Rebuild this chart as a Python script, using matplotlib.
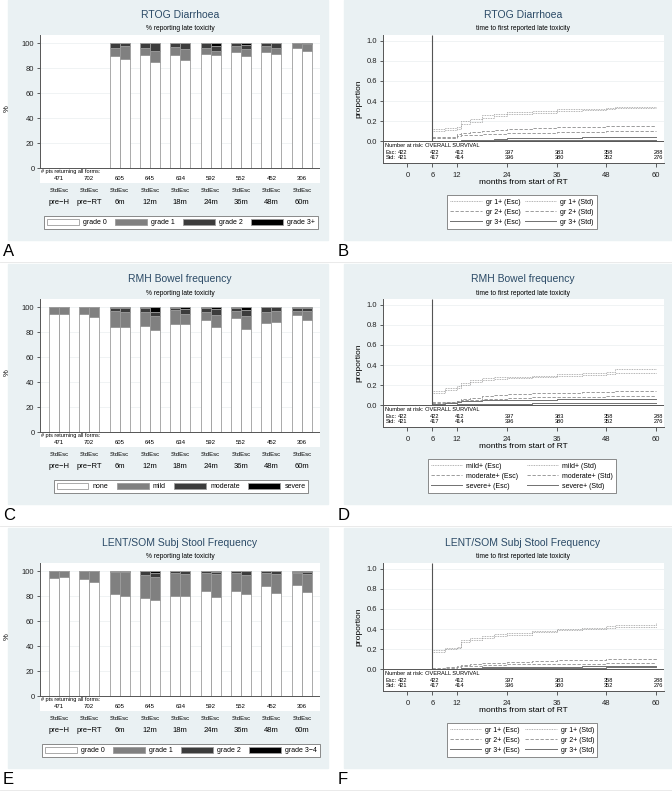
import numpy as np
import matplotlib
matplotlib.use("Agg")
import matplotlib.pyplot as plt
from matplotlib.patches import Rectangle, Patch
from matplotlib.lines import Line2D

plt.rcParams['font.family'] = ['Liberation Sans', 'DejaVu Sans']

W, H = 672, 792
nan = np.nan

# ---- bar panels (% reporting late toxicity) ----
groups = ['pre\u2212H', 'pre\u2212RT', '6m', '12m', '18m', '24m', '36m', '48m', '60m']
n_forms = [471, 702, 605, 645, 634, 592, 552, 452, 306]

# RTOG Diarrhoea, grade 0 / 1 / 2 / 3+
a_std_g0 = [nan, nan, 89.9, 90.2, 90.2, 91.5, 92.6, 92.6, 96.0]
a_std_g1 = [nan, nan, 6.6, 6.3, 6.9, 5.0, 5.3, 4.8, 4.0]
a_std_g2 = [nan, nan, 3.5, 3.5, 2.9, 3.5, 2.1, 2.6, 0.0]
a_std_g3 = [nan, nan, 0.0, 0.0, 0.0, 0.0, 0.0, 0.0, 0.0]
a_esc_g0 = [nan, nan, 87.5, 84.6, 86.7, 90.2, 89.4, 91.5, 93.9]
a_esc_g1 = [nan, nan, 10.4, 9.3, 8.8, 3.7, 5.9, 4.5, 5.1]
a_esc_g2 = [nan, nan, 2.1, 6.1, 4.5, 4.0, 3.4, 4.0, 0.0]
a_esc_g3 = [nan, nan, 0.0, 0.0, 0.0, 2.1, 1.3, 0.0, 1.0]
a_labels = ['grade 0', 'grade 1', 'grade 2', 'grade 3+']

# RMH Bowel frequency, none / mild / moderate / severe
c_std_g0 = [94.4, 94.9, 83.8, 84.8, 86.4, 89.7, 91.0, 87.5, 93.9]
c_std_g1 = [5.6, 5.1, 13.3, 11.7, 11.2, 6.6, 6.1, 8.8, 3.2]
c_std_g2 = [0.0, 0.0, 2.1, 2.7, 1.6, 2.9, 2.1, 3.7, 2.4]
c_std_g3 = [0.0, 0.0, 0.8, 0.8, 0.8, 0.8, 0.8, 0.0, 0.5]
c_esc_g0 = [94.9, 92.3, 83.8, 82.1, 86.4, 83.8, 82.2, 88.1, 89.9]
c_esc_g1 = [5.1, 7.7, 12.7, 10.9, 8.0, 9.8, 10.6, 9.0, 7.2]
c_esc_g2 = [0.0, 0.0, 2.7, 3.5, 4.3, 4.8, 5.3, 2.9, 2.1]
c_esc_g3 = [0.0, 0.0, 0.8, 3.5, 1.3, 1.6, 1.9, 0.0, 0.8]
c_labels = ['none', 'mild', 'moderate', 'severe']

# LENT/SOM Subj Stool Frequency, grade 0 / 1 / 2 / 3-4
e_std_g0 = [94.7, 93.6, 81.6, 78.7, 80.3, 84.3, 84.5, 88.5, 89.1]
e_std_g1 = [5.3, 6.4, 17.6, 18.6, 18.6, 14.6, 14.4, 10.4, 9.3]
e_std_g2 = [0.0, 0.0, 0.8, 2.7, 1.1, 1.1, 1.1, 1.1, 1.1]
e_std_g3 = [0.0, 0.0, 0.0, 0.0, 0.0, 0.0, 0.0, 0.0, 0.5]
e_esc_g0 = [95.2, 91.2, 79.8, 77.1, 79.8, 79.2, 81.9, 82.7, 83.5]
e_esc_g1 = [4.8, 8.8, 19.4, 18.6, 17.8, 18.4, 15.4, 14.9, 14.4]
e_esc_g2 = [0.0, 0.0, 0.8, 2.7, 2.4, 1.9, 2.7, 2.4, 1.6]
e_esc_g3 = [0.0, 0.0, 0.0, 1.6, 0.0, 0.5, 0.0, 0.0, 0.5]
e_labels = ['grade 0', 'grade 1', 'grade 2', 'grade 3\u22124']

# ---- time to first late toxicity (step curves) ----
km_times = [6, 9, 12, 13, 15, 18, 21, 24, 30, 36, 42, 48, 50, 60]

b_g1_esc = [0.12, 0.13, 0.14, 0.20, 0.22, 0.26, 0.27, 0.29, 0.30, 0.32, 0.32, 0.33, 0.34, 0.34]
b_g1_std = [0.10, 0.11, 0.12, 0.17, 0.19, 0.23, 0.25, 0.27, 0.28, 0.30, 0.31, 0.32, 0.33, 0.33]
b_g2_esc = [0.04, 0.04, 0.07, 0.08, 0.09, 0.10, 0.11, 0.12, 0.13, 0.14, 0.14, 0.15, 0.15, 0.15]
b_g2_std = [0.03, 0.03, 0.05, 0.06, 0.06, 0.07, 0.07, 0.08, 0.08, 0.09, 0.09, 0.10, 0.10, 0.10]
b_g3_esc = [0.0, 0.0, 0.005, 0.01, 0.01, 0.015, 0.02, 0.03, 0.03, 0.035, 0.04, 0.04, 0.04, 0.04]
b_g3_std = [0.0, 0.0, 0.0, 0.0, 0.005, 0.005, 0.01, 0.01, 0.01, 0.01, 0.01, 0.01, 0.01, 0.01]
b_labels = ['gr 1+ (Esc)', 'gr 2+ (Esc)', 'gr 3+ (Esc)', 'gr 1+ (Std)', 'gr 2+ (Std)', 'gr 3+ (Std)']

d_g1_esc = [0.14, 0.17, 0.19, 0.22, 0.25, 0.27, 0.28, 0.28, 0.29, 0.31, 0.32, 0.33, 0.36, 0.36]
d_g1_std = [0.12, 0.15, 0.17, 0.20, 0.23, 0.25, 0.26, 0.27, 0.28, 0.29, 0.30, 0.31, 0.32, 0.32]
d_g2_esc = [0.02, 0.03, 0.04, 0.06, 0.07, 0.09, 0.10, 0.11, 0.12, 0.12, 0.13, 0.13, 0.14, 0.14]
d_g2_std = [0.03, 0.03, 0.04, 0.05, 0.05, 0.06, 0.06, 0.07, 0.08, 0.08, 0.08, 0.09, 0.09, 0.09]
d_g3_esc = [0.01, 0.02, 0.03, 0.04, 0.045, 0.05, 0.05, 0.05, 0.055, 0.06, 0.06, 0.06, 0.06, 0.06]
d_g3_std = [0.0, 0.005, 0.01, 0.01, 0.01, 0.015, 0.015, 0.015, 0.02, 0.02, 0.02, 0.02, 0.02, 0.02]
d_labels = ['mild+ (Esc)', 'moderate+ (Esc)', 'severe+ (Esc)', 'mild+ (Std)', 'moderate+ (Std)', 'severe+ (Std)']

f_g1_esc = [0.19, 0.21, 0.22, 0.29, 0.31, 0.33, 0.35, 0.36, 0.38, 0.40, 0.41, 0.43, 0.44, 0.46]
f_g1_std = [0.17, 0.20, 0.21, 0.27, 0.29, 0.31, 0.33, 0.34, 0.37, 0.39, 0.40, 0.41, 0.42, 0.43]
f_g2_esc = [0.01, 0.02, 0.03, 0.04, 0.05, 0.06, 0.065, 0.07, 0.08, 0.09, 0.095, 0.10, 0.105, 0.115]
f_g2_std = [0.005, 0.01, 0.02, 0.03, 0.035, 0.04, 0.045, 0.05, 0.05, 0.05, 0.055, 0.06, 0.06, 0.06]
f_g3_esc = [0.0, 0.0, 0.005, 0.01, 0.015, 0.02, 0.02, 0.02, 0.025, 0.025, 0.03, 0.03, 0.03, 0.03]
f_g3_std = [0.0, 0.0, 0.0, 0.005, 0.005, 0.01, 0.01, 0.01, 0.01, 0.015, 0.015, 0.02, 0.02, 0.02]
f_labels = b_labels

risk_times = [0, 6, 12, 24, 36, 48, 60]
risk_esc = [422, 422, 412, 397, 383, 358, 288]
risk_std = [421, 417, 414, 396, 380, 352, 276]

BG = '#EAF1F3'
TITLE_C = '#2b4a66'
GRID_C = '#EEF1F2'
seg_colors = ['white', '#808080', '#3c3c3c', '#000000']
EDGE = '#9c9c9c'


def fx(px):
    return px / W


def fy(py):
    return 1 - py / H


fig = plt.figure(figsize=(W / 100, H / 100), dpi=100)

# panel backgrounds and letters
for row, (la, lb) in enumerate([('A', 'B'), ('C', 'D'), ('E', 'F')]):
    off = row * 264
    fig.patches.append(Rectangle((fx(8), fy(off + 240)), fx(320), 240 / H,
                                 transform=fig.transFigure, color=BG, zorder=-10))
    fig.patches.append(Rectangle((fx(344), fy(off + 240)), fx(328), 240 / H,
                                 transform=fig.transFigure, color=BG, zorder=-10))
    fig.text(fx(3), fy(off + 252), la, fontsize=12, va='center', ha='left')
    fig.text(fx(338), fy(off + 252), lb, fontsize=12, va='center', ha='left')
    fig.add_artist(Line2D([0, 1], [fy(off + 262)] * 2, color='#e6e6e6', lw=0.6,
                          transform=fig.transFigure))


def bar_panel(off, title, std, esc, labels):
    ax = fig.add_axes([fx(40), fy(off + 183), fx(280), 148 / H])
    ax.set_facecolor('white')
    x = np.arange(len(groups))
    bw = 0.33
    for series, shift in ((std, -bw / 2), (esc, bw / 2)):
        bottom = np.zeros(len(groups))
        for seg, col in zip(series, seg_colors):
            seg = np.asarray(seg, dtype=float)
            ok = ~np.isnan(seg)
            ax.bar(x[ok] + shift, seg[ok], bw, bottom=bottom[ok], color=col,
                   edgecolor=EDGE, linewidth=0.6, zorder=3)
            bottom[ok] += seg[ok]
    ax.set_xlim(-0.62, 8.6)
    ax.set_ylim(-12, 106.6)
    ax.set_yticks([0, 20, 40, 60, 80, 100])
    for yv in [20, 40, 60, 80, 100]:
        ax.axhline(yv, color=GRID_C, lw=0.6, zorder=1)
    ax.axhline(0, color='#555555', lw=0.7, zorder=4)
    ax.set_xticks([])
    for s in ('top', 'right', 'bottom'):
        ax.spines[s].set_visible(False)
    ax.spines['left'].set_bounds(0, 106.6)
    ax.spines['left'].set_color('#555555')
    ax.spines['left'].set_linewidth(0.7)
    ax.tick_params(axis='y', labelsize=5.5, length=2.5, width=0.5, pad=1.5, colors='#222222')
    ax.set_ylabel('%', fontsize=5.5, labelpad=8)
    ax.text(-0.58, -2.6, '# pts returning all forms:', fontsize=4, va='center', ha='left')
    for xi, n in zip(x, n_forms):
        ax.text(xi, -8.6, str(n), fontsize=4.3, va='center', ha='center')
        ax.text(xi, -0.054, 'StdEsc', fontsize=4.3, va='center', ha='center',
                transform=ax.get_xaxis_transform())
    for xi, g in zip(x, groups):
        ax.text(xi, -0.135, g, fontsize=5.5, va='center', ha='center',
                transform=ax.get_xaxis_transform())
    fig.text(fx(180), fy(off + 15), title, fontsize=7.5, color=TITLE_C, ha='center', va='center')
    fig.text(fx(180), fy(off + 29), '% reporting late toxicity', fontsize=4.8, ha='center', va='center')
    handles = [Patch(facecolor=c, edgecolor=EDGE, linewidth=0.6) for c in seg_colors]
    ax.legend(handles, labels, loc='upper center', ncol=4,
              bbox_to_anchor=(fx(181), fy(off + 213)), bbox_transform=fig.transFigure,
              fontsize=5, handlelength=4.6, handleheight=1.0, handletextpad=0.6,
              columnspacing=1.2, borderpad=0.35, frameon=True, fancybox=False,
              edgecolor='#777777', framealpha=1)
    ax.get_legend().get_frame().set_linewidth(0.6)


def km_panel(off, title, curves, labels, colsp):
    ax = fig.add_axes([fx(383), fy(off + 163), fx(281), 128 / H])
    ax.set_facecolor('white')
    styles = [((0, (1, 1)), '#9a9a9a', 0.6), ((0, (4, 2)), '#8c8c8c', 0.6), ('-', '#707070', 0.7)]
    handles = []
    for vals, (ls, col, lw) in zip(curves, styles * 2):
        ax.step(km_times, vals, where='post', color=col, ls=ls, lw=lw, zorder=3)
        handles.append(Line2D([], [], color=col, ls=ls, lw=lw))
    ax.set_xlim(-5.9, 61.9)
    ax.set_ylim(-0.216, 1.057)
    ax.set_yticks([0.0, 0.2, 0.4, 0.6, 0.8, 1.0])
    ax.set_yticklabels(['0.0', '0.2', '0.4', '0.6', '0.8', '1.0'])
    for yv in [0.2, 0.4, 0.6, 0.8, 1.0]:
        ax.axhline(yv, color=GRID_C, lw=0.6, zorder=1)
    ax.axhline(0, color='#555555', lw=0.7, zorder=4)
    ax.vlines(6, 0, 1.057, color='#555555', lw=0.8, zorder=4)
    ax.set_xticks(risk_times)
    for s in ('top', 'right'):
        ax.spines[s].set_visible(False)
    for s in ('left', 'bottom'):
        ax.spines[s].set_color('#555555')
        ax.spines[s].set_linewidth(0.7)
    ax.tick_params(labelsize=5.5, length=2.5, width=0.5, pad=1.5, colors='#222222')
    ax.tick_params(axis='x', length=3, pad=3.5)
    ax.set_ylabel('proportion', fontsize=6, labelpad=3)
    ax.set_xlabel('months from start of RT', fontsize=6, labelpad=0.3)
    ax.text(-5.5, -0.037, 'Number at risk: OVERALL SURVIVAL', fontsize=4.1, va='center', ha='left')
    ax.text(-5.3, -0.113, 'Esc:', fontsize=4.1, va='center', ha='left')
    ax.text(-5.3, -0.166, 'Std:', fontsize=4.1, va='center', ha='left')
    for i, t in enumerate(risk_times):
        if i == 0:
            ax.text(t - 2.3, -0.113, str(risk_esc[i]), fontsize=4.1, va='center', ha='left')
            ax.text(t - 2.3, -0.166, str(risk_std[i]), fontsize=4.1, va='center', ha='left')
        else:
            ax.text(t + 0.6, -0.113, str(risk_esc[i]), fontsize=4.1, va='center', ha='center')
            ax.text(t + 0.6, -0.166, str(risk_std[i]), fontsize=4.1, va='center', ha='center')
    fig.text(fx(523), fy(off + 15), title, fontsize=7.5, color=TITLE_C, ha='center', va='center')
    fig.text(fx(523), fy(off + 29), 'time to first reported late toxicity', fontsize=4.8,
             ha='center', va='center')
    ax.legend(handles, labels, loc='upper center', ncol=2,
              bbox_to_anchor=(fx(522), fy(off + 192)), bbox_transform=fig.transFigure,
              fontsize=5, handlelength=4.5, handletextpad=0.6, columnspacing=colsp,
              labelspacing=0.45, borderpad=0.45, frameon=True, fancybox=False,
              edgecolor='#777777', framealpha=1)
    ax.get_legend().get_frame().set_linewidth(0.6)


bar_panel(0, 'RTOG Diarrhoea',
          [a_std_g0, a_std_g1, a_std_g2, a_std_g3],
          [a_esc_g0, a_esc_g1, a_esc_g2, a_esc_g3], a_labels)
bar_panel(264, 'RMH Bowel frequency',
          [c_std_g0, c_std_g1, c_std_g2, c_std_g3],
          [c_esc_g0, c_esc_g1, c_esc_g2, c_esc_g3], c_labels)
bar_panel(528, 'LENT/SOM Subj Stool Frequency',
          [e_std_g0, e_std_g1, e_std_g2, e_std_g3],
          [e_esc_g0, e_esc_g1, e_esc_g2, e_esc_g3], e_labels)

km_panel(0, 'RTOG Diarrhoea',
         [b_g1_esc, b_g2_esc, b_g3_esc, b_g1_std, b_g2_std, b_g3_std], b_labels, 0.6)
km_panel(264, 'RMH Bowel frequency',
         [d_g1_esc, d_g2_esc, d_g3_esc, d_g1_std, d_g2_std, d_g3_std], d_labels, 1.2)
km_panel(528, 'LENT/SOM Subj Stool Frequency',
         [f_g1_esc, f_g2_esc, f_g3_esc, f_g1_std, f_g2_std, f_g3_std], f_labels, 0.8)

fig.savefig('out.png', dpi=100)
